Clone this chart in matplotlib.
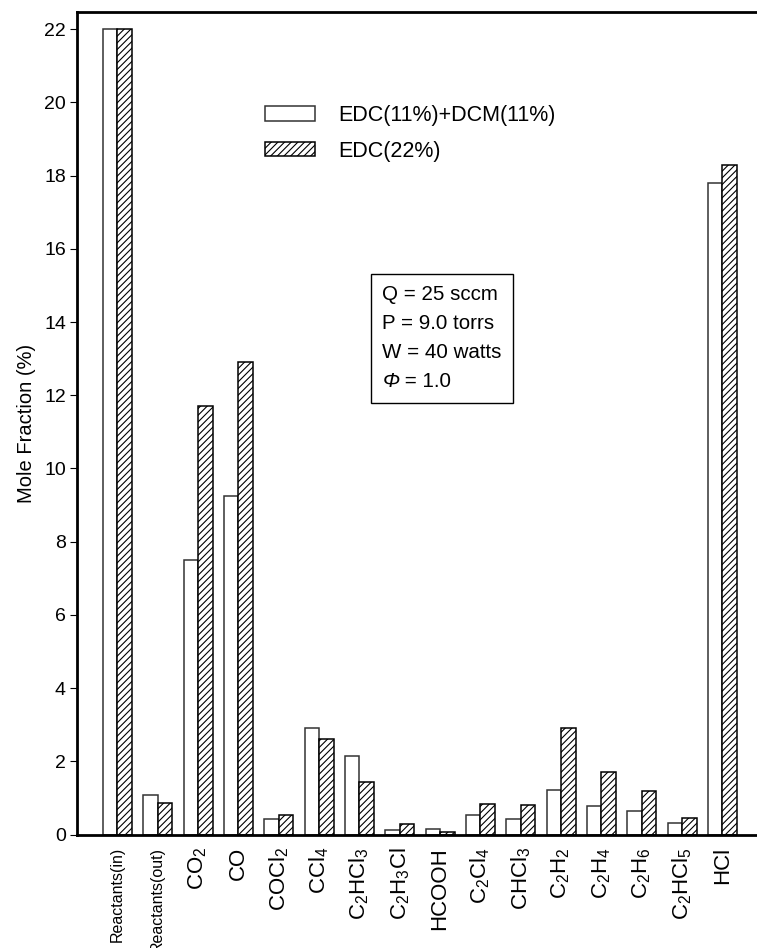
import matplotlib
matplotlib.use("Agg")
import matplotlib.pyplot as plt
from matplotlib.offsetbox import TextArea, HPacker, VPacker, AnchoredOffsetbox
import numpy as np

plt.rcParams['font.family'] = ['Liberation Sans', 'DejaVu Sans']
plt.rcParams['mathtext.fontset'] = 'custom'
plt.rcParams['mathtext.rm'] = 'Liberation Sans'
plt.rcParams['mathtext.it'] = 'Liberation Sans:italic'
plt.rcParams['mathtext.default'] = 'regular'
plt.rcParams['hatch.linewidth'] = 0.8

categories = ['Reactants(in)', 'Reactants(out)', 'CO$_2$', 'CO', 'COCl$_2$', 'CCl$_4$',
              'C$_2$HCl$_3$', 'C$_2$H$_3$Cl', 'HCOOH', 'C$_2$Cl$_4$', 'CHCl$_3$',
              'C$_2$H$_2$', 'C$_2$H$_4$', 'C$_2$H$_6$', 'C$_2$HCl$_5$', 'HCl']
edc_dcm = [22.0, 1.08, 7.5, 9.25, 0.41, 2.90, 2.14, 0.12, 0.14, 0.54, 0.43,
           1.22, 0.77, 0.63, 0.31, 17.8]
edc22 = [22.0, 0.87, 11.7, 12.9, 0.52, 2.60, 1.43, 0.28, 0.06, 0.82, 0.81,
         2.90, 1.70, 1.18, 0.44, 18.3]
series_labels = ['EDC(11%)+DCM(11%)', 'EDC(22%)']
yticks = [0, 2, 4, 6, 8, 10, 12, 14, 16, 18, 20, 22]
conditions = ['Q = 25 sccm', 'P = 9.0 torrs', 'W = 40 watts']
phi_text = ' = 1.0'

W, H = 757, 948
fig = plt.figure(figsize=(W/100, H/100), dpi=100)
ax = fig.add_axes([77/W, (H-834.5)/H, (760-77)/W, (834.5-12)/H])

x = np.arange(len(categories))
bw = 0.36
ax.bar(x - bw/2, edc_dcm, bw, facecolor='white', edgecolor='#333333', linewidth=1.1,
       label=series_labels[0])
ax.bar(x + bw/2, edc22, bw, facecolor='white', edgecolor='black', linewidth=1.1,
       hatch='/////', label=series_labels[1])

ax.set_xlim(-1, 15.93)
ax.set_ylim(0, 22.47)
ax.set_yticks(yticks)
ax.set_yticklabels([str(t) for t in yticks], fontsize=14)
ax.tick_params(axis='y', direction='out', length=5, width=0.8, pad=3)
ax.set_xticks(x)
ax.set_xticklabels(categories, rotation=90, va='top', ha='center')
for lab, cat in zip(ax.get_xticklabels(), categories):
    lab.set_fontsize(11.5 if cat.startswith('Reactants') else 16)
ax.tick_params(axis='x', length=0, pad=9)

for s in ['left', 'bottom', 'top']:
    ax.spines[s].set_linewidth(2)
ax.spines['right'].set_visible(False)

ax.set_ylabel('Mole Fraction (%)', fontsize=14.5, labelpad=6)

leg = ax.legend(loc='upper left', bbox_to_anchor=(265/W, 1-105/H),
                bbox_transform=fig.transFigure, frameon=False, fontsize=15.5,
                handlelength=2.33, handleheight=0.65, handletextpad=1.05,
                labelspacing=0.68, borderpad=0, borderaxespad=0)

fs = 14.8
rows = [TextArea(t, textprops=dict(fontsize=fs)) for t in conditions]
rows.append(HPacker(children=[TextArea('Φ', textprops=dict(fontsize=fs, style='italic')),
                              TextArea(phi_text, textprops=dict(fontsize=fs))],
                    sep=0, pad=0, align='baseline'))
vp = VPacker(children=rows, align='left', sep=7.2, pad=0)
box = AnchoredOffsetbox(loc='upper left', child=vp, pad=0.55, borderpad=0,
                        frameon=True, prop=dict(size=fs),
                        bbox_to_anchor=(371/W, 1-274/H),
                        bbox_transform=fig.transFigure)
box.patch.set_boxstyle('square,pad=0')
box.patch.set_edgecolor('black')
box.patch.set_linewidth(1.0)
ax.add_artist(box)

fig.savefig('out.png', dpi=100)
